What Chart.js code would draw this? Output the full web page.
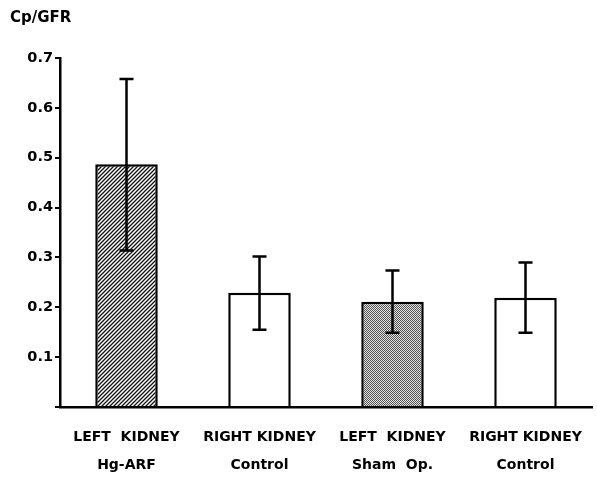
<!DOCTYPE html>
<html>
<head>
<meta charset="utf-8">
<script src="https://cdn.jsdelivr.net/npm/chart.js@4.4.1/dist/chart.umd.min.js"></script>
<style>
  html, body { margin: 0; padding: 0; background: #fff; }
  #wrap { width: 597px; height: 479px; }
</style>
</head>
<body>
<div id="wrap"><canvas id="chart"></canvas></div>
<script>
// Data
const groups = [
  ["LEFT  KIDNEY", "Hg-ARF"],
  ["RIGHT KIDNEY", "Control"],
  ["LEFT  KIDNEY", "Sham  Op."],
  ["RIGHT KIDNEY", "Control"],
];
const means = [0.487, 0.229, 0.211, 0.219];
const errLow = [0.314, 0.155, 0.149, 0.149];
const errHigh = [0.658, 0.302, 0.274, 0.290];
const yTicks = [0.1, 0.2, 0.3, 0.4, 0.5, 0.6, 0.7];

const fontFamily = "'DejaVu Sans', Arial, sans-serif";

// fill patterns for the two shaded bars
function makeHatch() {
  const c = document.createElement("canvas");
  c.width = 4;
  c.height = 4;
  const g = c.getContext("2d");
  g.fillStyle = "#fff";
  g.fillRect(0, 0, 4, 4);
  g.strokeStyle = "#111";
  g.lineWidth = 1.3;
  g.beginPath();
  g.moveTo(-1, 5);
  g.lineTo(5, -1);
  g.moveTo(-1, 1);
  g.lineTo(1, -1);
  g.moveTo(3, 5);
  g.lineTo(5, 3);
  g.stroke();
  return g.createPattern(c, "repeat");
}

function makeStipple() {
  const c = document.createElement("canvas");
  c.width = 2;
  c.height = 2;
  const g = c.getContext("2d");
  g.fillStyle = "#e2e2e2";
  g.fillRect(0, 0, 2, 2);
  g.fillStyle = "#555";
  g.fillRect(0, 0, 1, 1);
  g.fillRect(1, 1, 1, 1);
  return g.createPattern(c, "repeat");
}

const ctx = document.getElementById("chart").getContext("2d");
const fills = [makeHatch(), "#fff", makeStipple(), "#fff"];

// error bars drawn on top of the bars
const errorBars = {
  id: "errorBars",
  afterDatasetsDraw(chart) {
    const meta = chart.getDatasetMeta(0);
    const y = chart.scales.y;
    const g = chart.ctx;
    g.save();
    g.strokeStyle = "#000";
    g.lineWidth = 2.5;
    meta.data.forEach((bar, i) => {
      const x = bar.x;
      const yl = y.getPixelForValue(errLow[i]);
      const yh = y.getPixelForValue(errHigh[i]);
      g.beginPath();
      g.moveTo(x, yl);
      g.lineTo(x, yh);
      g.moveTo(x - 7, yl);
      g.lineTo(x + 7, yl);
      g.moveTo(x - 7, yh);
      g.lineTo(x + 7, yh);
      g.stroke();
    });
    g.restore();
  },
};

new Chart(ctx, {
  type: "bar",
  data: {
    labels: groups,
    datasets: [
      {
        data: means,
        backgroundColor: fills,
        borderColor: "#000",
        borderWidth: 2.5,
        borderSkipped: "bottom",
        barPercentage: 0.94,
        categoryPercentage: 0.5,
      },
    ],
  },
  options: {
    responsive: true,
    maintainAspectRatio: false,
    animation: false,
    layout: { padding: { left: 10, right: 5, top: 0, bottom: 0 } },
    plugins: {
      legend: { display: false },
      tooltip: { enabled: false },
      title: {
        display: true,
        text: "Cp/GFR",
        align: "start",
        color: "#000",
        font: { family: fontFamily, size: 15, weight: "bold" },
        padding: { top: 9, bottom: 31 },
      },
    },
    scales: {
      x: {
        grid: { display: false },
        border: { display: true, color: "#000", width: 2.5 },
        ticks: {
          color: "#000",
          padding: 8,
          maxRotation: 0,
          autoSkip: false,
          font: { family: fontFamily, size: 14, weight: "bold", lineHeight: 2 },
        },
        afterFit(scale) {
          scale.height = 72;
        },
      },
      y: {
        min: 0,
        max: 0.7,
        afterBuildTicks(scale) {
          scale.ticks = [0].concat(yTicks).map((v) => ({ value: v }));
        },
        grid: {
          drawOnChartArea: false,
          drawTicks: true,
          tickLength: 5,
          color: "#000",
          lineWidth: 2,
        },
        border: { display: true, color: "#000", width: 2.5 },
        ticks: {
          color: "#000",
          padding: 2,
          font: { family: fontFamily, size: 14.5, weight: "bold" },
          callback: (v) => (v === 0 ? "" : v.toFixed(1)),
        },
        afterFit(scale) {
          scale.width = 50;
        },
      },
    },
  },
  plugins: [errorBars],
});
</script>
</body>
</html>
